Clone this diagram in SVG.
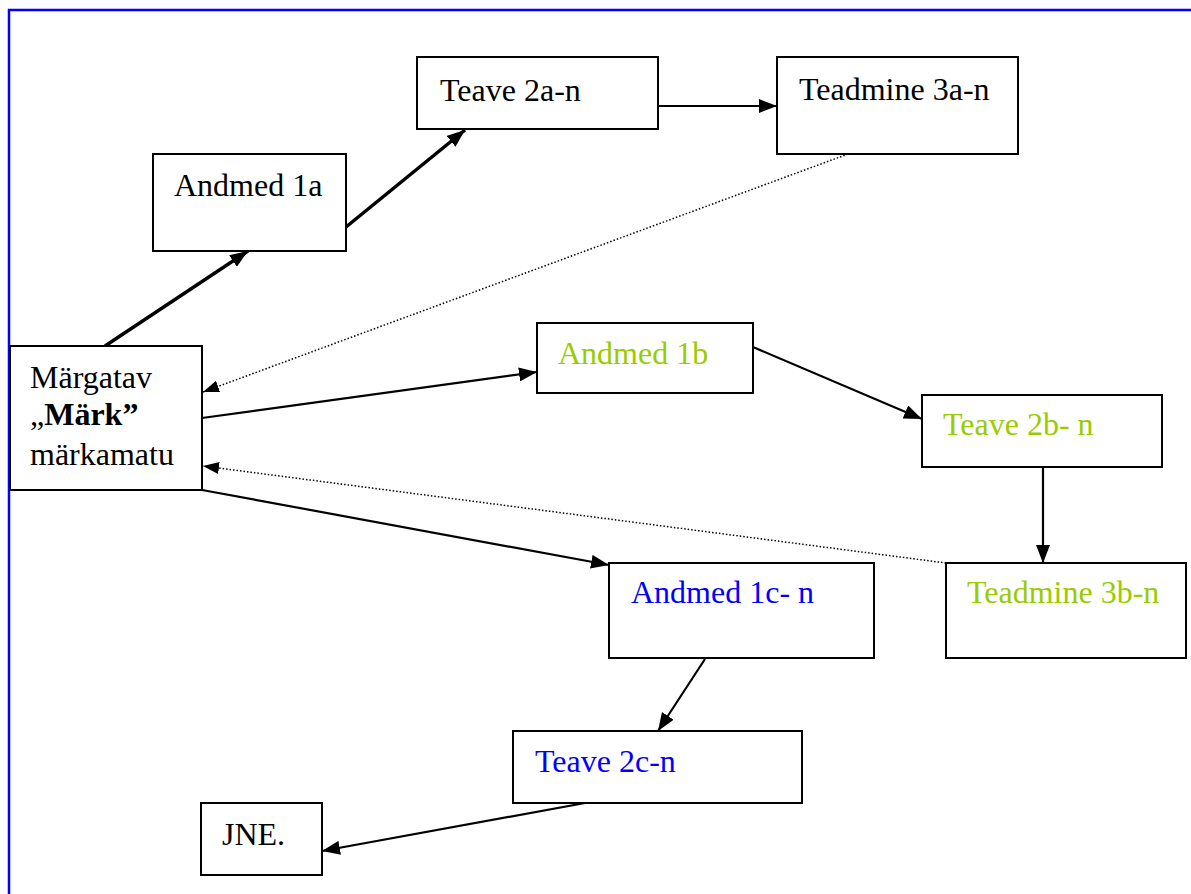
<svg xmlns="http://www.w3.org/2000/svg" width="1191" height="894" viewBox="0 0 1191 894">
<style>
.box{fill:#fff;stroke:#000;stroke-width:2}
.t{font-family:"Liberation Serif","Times New Roman",serif;font-size:32px;fill:#000}
.g{fill:#99cc00}
.b{fill:#0000ff}
.c{stroke:#000;fill:none}
.thick{stroke-width:3.5}
.med{stroke-width:2.2}
.dot{stroke-width:1.5;stroke-dasharray:1.5 2}
</style>
<defs>
<marker id="ah" markerUnits="userSpaceOnUse" markerWidth="20" markerHeight="14" refX="18" refY="7" orient="auto">
<path d="M0,0 L18,7 L0,14 Z" fill="#000"/>
</marker>
<marker id="ahs" markerUnits="userSpaceOnUse" markerWidth="18" markerHeight="12" refX="16" refY="6" orient="auto">
<path d="M0,0 L16,6 L0,12 Z" fill="#000"/>
</marker>
</defs>
<rect x="9" y="10" width="1200" height="900" fill="#fff" stroke="#0000ff" stroke-width="2.5"/>
<g id="connectors">
<line class="c thick" x1="105" y1="346" x2="248" y2="251" marker-end="url(#ah)"/>
<line class="c thick" x1="346" y1="227" x2="465" y2="130" marker-end="url(#ah)"/>
<line class="c med" x1="658" y1="106" x2="777" y2="106" marker-end="url(#ah)"/>
<line class="c dot" x1="848" y1="154" x2="203" y2="392" marker-end="url(#ahs)"/>
<line class="c med" x1="202" y1="418" x2="537" y2="372" marker-end="url(#ah)"/>
<line class="c med" x1="753" y1="347" x2="922" y2="419" marker-end="url(#ah)"/>
<line class="c med" x1="1043" y1="467" x2="1043" y2="563" marker-end="url(#ah)"/>
<line class="c dot" x1="946" y1="563" x2="203" y2="466" marker-end="url(#ahs)"/>
<line class="c med" x1="202" y1="490" x2="609" y2="565" marker-end="url(#ah)"/>
<line class="c med" x1="705" y1="659" x2="658" y2="731" marker-end="url(#ah)"/>
<line class="c med" x1="585" y1="803" x2="322" y2="851" marker-end="url(#ah)"/>
</g>
<g id="n-andmed1a"><rect class="box" x="153" y="154" width="193" height="97"/><text class="t" x="174" y="196">Andmed 1a</text></g>
<g id="n-teave2a"><rect class="box" x="417" y="57" width="241" height="72"/><text class="t" x="440" y="101">Teave 2a-n</text></g>
<g id="n-teadmine3a"><rect class="box" x="777" y="57" width="241" height="97"/><text class="t" x="799" y="100">Teadmine 3a-n</text></g>
<g id="n-mark"><rect class="box" x="10" y="346" width="192" height="144"/>
<text class="t" x="30" y="388">Märgatav</text>
<text class="t" x="30" y="425">„<tspan font-weight="bold">Märk”</tspan></text>
<text class="t" x="30" y="465">märkamatu</text></g>
<g id="n-andmed1b"><rect class="box" x="537" y="323" width="216" height="70"/><text class="t g" x="558" y="364">Andmed 1b</text></g>
<g id="n-teave2b"><rect class="box" x="922" y="395" width="240" height="72"/><text class="t g" x="943" y="435">Teave 2b- n</text></g>
<g id="n-teadmine3b"><rect class="box" x="946" y="563" width="240" height="95"/><text class="t g" x="967" y="603">Teadmine 3b-n</text></g>
<g id="n-andmed1c"><rect class="box" x="609" y="563" width="265" height="95"/><text class="t b" x="631" y="603">Andmed 1c- n</text></g>
<g id="n-teave2c"><rect class="box" x="513" y="731" width="289" height="72"/><text class="t b" x="535" y="772">Teave 2c-n</text></g>
<g id="n-jne"><rect class="box" x="201" y="803" width="121" height="72"/><text class="t" x="222" y="845">JNE.</text></g>
</svg>
